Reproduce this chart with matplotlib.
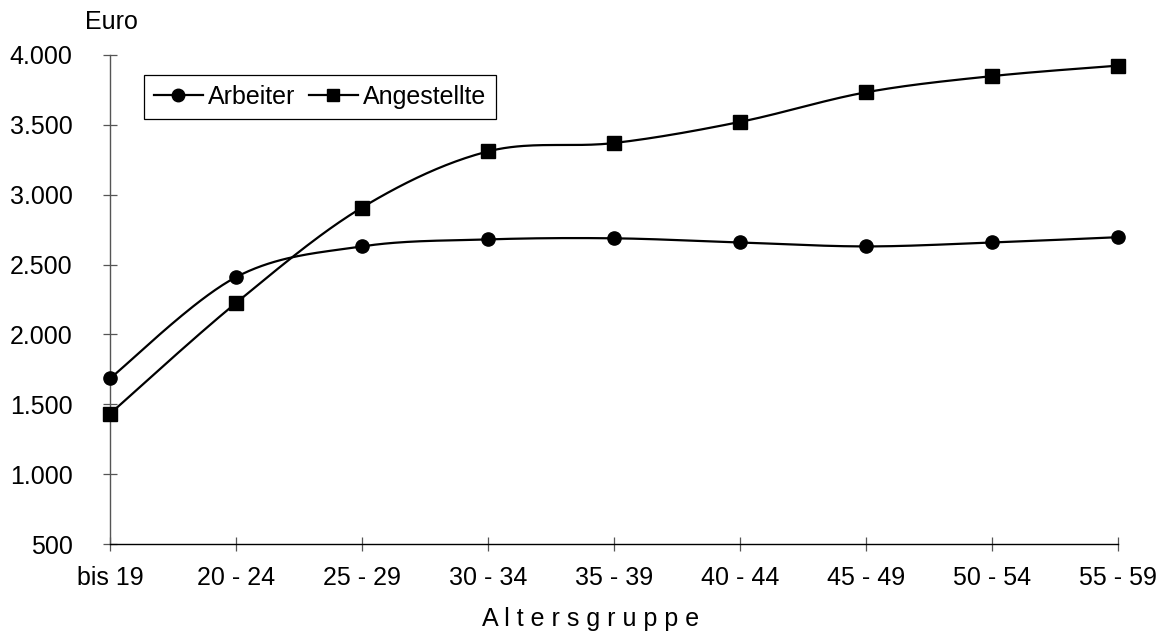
import matplotlib
matplotlib.use("Agg")
import matplotlib.pyplot as plt
import numpy as np
from matplotlib.lines import Line2D

categories = ["bis 19", "20 - 24", "25 - 29", "30 - 34", "35 - 39",
              "40 - 44", "45 - 49", "50 - 54", "55 - 59"]
arbeiter = [1685, 2410, 2630, 2680, 2688, 2658, 2630, 2658, 2696]
angestellte = [1432, 2225, 2908, 3310, 3370, 3521, 3733, 3849, 3924]
yticks = [500, 1000, 1500, 2000, 2500, 3000, 3500, 4000]
ytick_labels = ["500", "1.000", "1.500", "2.000", "2.500", "3.000", "3.500", "4.000"]

plt.rcParams['font.family'] = ['Liberation Sans', 'DejaVu Sans']
FS = 18


def smooth(xs, ys, n=40):
    xs = np.asarray(xs, float)
    ys = np.asarray(ys, float)
    px = np.concatenate([[xs[0]], xs, [xs[-1]]])
    py = np.concatenate([[ys[0]], ys, [ys[-1]]])
    outx, outy = [], []
    t = np.linspace(0, 1, n)
    for i in range(1, len(px) - 2):
        p0 = np.array([px[i - 1], py[i - 1]])
        p1 = np.array([px[i], py[i]])
        p2 = np.array([px[i + 1], py[i + 1]])
        p3 = np.array([px[i + 2], py[i + 2]])
        c1 = p1 + (p2 - p0) / 6.0
        c2 = p2 - (p3 - p1) / 6.0
        b = ((1 - t) ** 3)[:, None] * p1 + (3 * (1 - t) ** 2 * t)[:, None] * c1 \
            + (3 * (1 - t) * t ** 2)[:, None] * c2 + (t ** 3)[:, None] * p2
        outx.extend(b[:, 0])
        outy.extend(b[:, 1])
    return np.array(outx), np.array(outy)


W, H = 1167, 637
fig = plt.figure(figsize=(W / 100, H / 100), dpi=100)
ax = fig.add_axes([110 / W, (H - 544) / H, (1118 - 110) / W, (544 - 55) / H])

x = np.arange(len(categories))
for vals, mk, ms in [(arbeiter, 'o', 9.5), (angestellte, 's', 10.5)]:
    sx, sy = smooth(x, vals)
    ax.plot(sx, sy, color='black', lw=1.6, zorder=3, clip_on=False)
    ax.plot(x, vals, linestyle='none', marker=mk, color='black',
            markersize=ms, zorder=4, clip_on=False)

ax.set_xlim(0, 8)
ax.set_ylim(500, 4000)
ax.set_xticks(x)
ax.set_xticklabels(categories, fontsize=FS)
ax.set_yticks(yticks)
ax.set_yticklabels(ytick_labels, fontsize=FS)

for s in ['top', 'right']:
    ax.spines[s].set_visible(False)
ax.spines['left'].set_color('#555555')
ax.spines['bottom'].set_color('black')
ax.spines['left'].set_linewidth(1.0)
ax.spines['bottom'].set_linewidth(1.0)
ax.tick_params(axis='both', direction='inout', length=10, width=0.9, color='#555555')
ax.tick_params(axis='x', pad=11)
ax.tick_params(axis='y', pad=22)

fig.text(85 / W, 1 - 29 / H, "Euro", fontsize=FS, ha='left', va='baseline')
fig.text(591 / W, 1 - 626 / H, " ".join("Altersgruppe"), fontsize=FS,
         ha='center', va='baseline')

handles = [Line2D([], [], color='black', lw=1.6, marker='o', markersize=9),
           Line2D([], [], color='black', lw=1.6, marker='s', markersize=8.5)]
leg = ax.legend(handles, ["Arbeiter", "Angestellte"], ncol=2, fontsize=FS,
                loc='upper left',
                bbox_to_anchor=((144 - 110) / (1118 - 110), (544 - 75) / (544 - 55)),
                frameon=True, fancybox=False, edgecolor='black', framealpha=1,
                handlelength=1.95, handletextpad=0.2, columnspacing=0.55,
                borderpad=0.4, borderaxespad=0)
leg.get_frame().set_linewidth(0.9)

fig.savefig("out.png", dpi=100)
